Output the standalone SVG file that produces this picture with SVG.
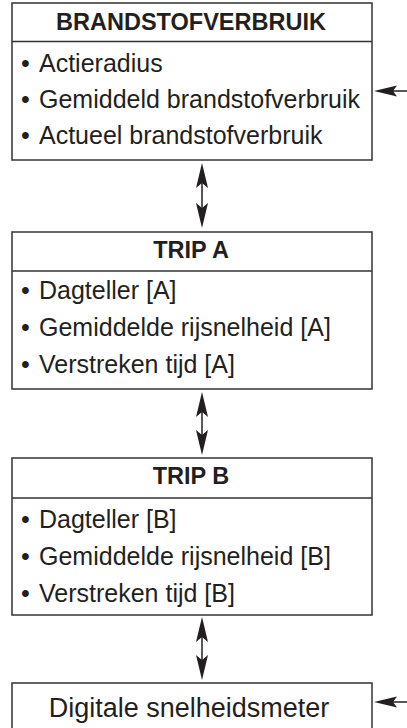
<svg xmlns="http://www.w3.org/2000/svg" width="407" height="728" viewBox="0 0 407 728">
<style>
.box{fill:#fff;stroke:#333;stroke-width:1.5}
.sep{stroke:#333;stroke-width:1.5}
.title{font-family:"Liberation Sans",Arial,sans-serif;font-weight:bold;font-size:23.5px;fill:#231f20;text-anchor:middle}
.item{font-family:"Liberation Sans",Arial,sans-serif;font-size:25px;fill:#231f20}
.big{font-family:"Liberation Sans",Arial,sans-serif;font-size:27px;fill:#231f20;text-anchor:middle}
.ln{stroke:#231f20;stroke-width:1.5;fill:none}
.hd{fill:#231f20}
</style>
<rect width="407" height="728" fill="#fff"/>
<g id="brandstof">
<rect class="box" x="12" y="3" width="360" height="157"/>
<line class="sep" x1="12" y1="41.5" x2="372" y2="41.5"/>
<text class="title" x="191" y="30">BRANDSTOFVERBRUIK</text>
<text class="item" y="72"><tspan x="21">•</tspan><tspan x="39">Actieradius</tspan></text>
<text class="item" y="108"><tspan x="21">•</tspan><tspan x="39">Gemiddeld brandstofverbruik</tspan></text>
<text class="item" y="144"><tspan x="21">•</tspan><tspan x="39">Actueel brandstofverbruik</tspan></text>
</g>
<g id="tripA">
<rect class="box" x="12" y="232" width="360" height="157"/>
<line class="sep" x1="12" y1="271" x2="372" y2="271"/>
<text class="title" x="191" y="258">TRIP A</text>
<text class="item" y="299"><tspan x="21">•</tspan><tspan x="39">Dagteller [A]</tspan></text>
<text class="item" y="336"><tspan x="21">•</tspan><tspan x="39">Gemiddelde rijsnelheid [A]</tspan></text>
<text class="item" y="373"><tspan x="21">•</tspan><tspan x="39">Verstreken tijd [A]</tspan></text>
</g>
<g id="tripB">
<rect class="box" x="12" y="458" width="360" height="157"/>
<line class="sep" x1="12" y1="498" x2="372" y2="498"/>
<text class="title" x="191" y="484">TRIP B</text>
<text class="item" y="528"><tspan x="21">•</tspan><tspan x="39">Dagteller [B]</tspan></text>
<text class="item" y="565"><tspan x="21">•</tspan><tspan x="39">Gemiddelde rijsnelheid [B]</tspan></text>
<text class="item" y="602"><tspan x="21">•</tspan><tspan x="39">Verstreken tijd [B]</tspan></text>
</g>
<g id="snelheid">
<rect class="box" x="12" y="683" width="360" height="60"/>
<text class="big" x="189" y="717">Digitale snelheidsmeter</text>
</g>
<g id="connectors">
<line class="ln" x1="407" y1="91" x2="388" y2="91"/>
<polygon class="hd" points="374,91 397,85.5 393,91 397,96.5"/>
<line class="ln" x1="407" y1="702" x2="388" y2="702"/>
<polygon class="hd" points="374,702 397,696.5 393,702 397,707.5"/>
<line class="ln" x1="202" y1="180" x2="202" y2="210"/>
<polygon class="hd" points="202,163 208,188 202,183 196,188"/>
<polygon class="hd" points="202,228 208,203 202,208 196,203"/>
<line class="ln" x1="202" y1="409" x2="202" y2="438"/>
<polygon class="hd" points="202,392 208,417 202,412 196,417"/>
<polygon class="hd" points="202,455 208,430 202,435 196,430"/>
<line class="ln" x1="202" y1="634" x2="202" y2="663"/>
<polygon class="hd" points="202,617 208,642 202,637 196,642"/>
<polygon class="hd" points="202,680 208,655 202,660 196,655"/>
</g>
</svg>
